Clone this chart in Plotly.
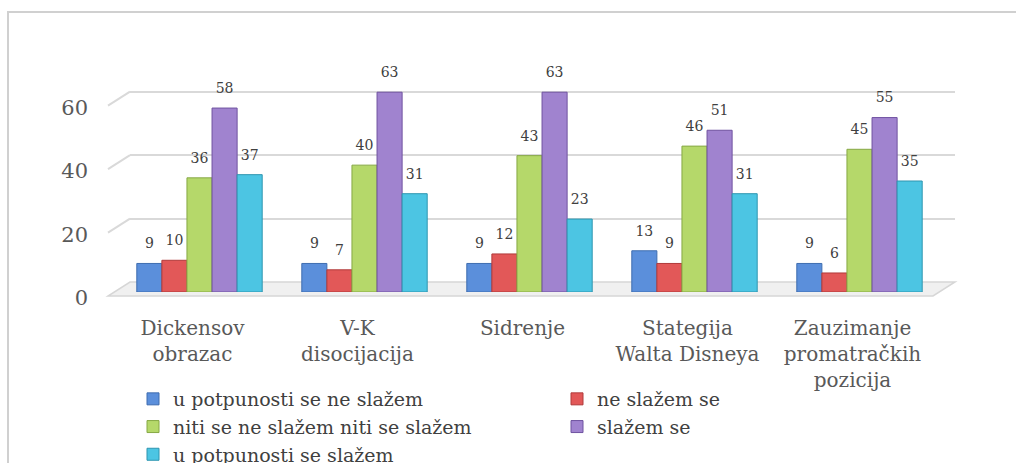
import plotly.graph_objects as go

categories = ["Dickensov<br>obrazac", "V-K<br>disocijacija", "Sidrenje",
              "Stategija<br>Walta Disneya", "Zauzimanje<br>promatračkih<br>pozicija"]
series_names = ["u potpunosti se ne slažem", "ne slažem se",
                "niti se ne slažem niti se slažem", "slažem se",
                "u potpunosti se slažem"]
s1 = [9, 9, 9, 13, 9]
s2 = [10, 7, 12, 9, 6]
s3 = [36, 40, 43, 46, 45]
s4 = [58, 63, 63, 51, 55]
s5 = [37, 31, 23, 31, 35]
tick_vals = [0, 20, 40, 60]
colors = ["#5B8FDB", "#E25858", "#B5D86A", "#A083CF", "#4CC5E3"]
edge = ["#3F6DB0", "#B03A3A", "#86A845", "#6F52A0", "#2E95B0"]

W, H = 1016, 463
L, R, T, B = 110, 20, 60, 165
PW, PH = W - L - R, H - T - B
YMAX = 70
SPAN_W, SPAN_H = 825, 222          # pixel size of one 3D "layer"
BAR_DX, BAR_DY = 7, 6              # bars layer offset from label layer
GRID_DX, GRID_DY = 20, 16          # back wall offset from label layer
SCALE = SPAN_H / YMAX


def px(x):
    return (x - L) / PW


def py(y):
    return (H - B - y) / PH


def dom_x(dx):
    return [dx / PW, (dx + SPAN_W) / PW]


def dom_y(dy):
    return [dy / PH, (dy + SPAN_H) / PH]


FONT = "DejaVu Serif"
fig = go.Figure()

# anchors so that grid and label subplots exist
fig.add_trace(go.Scatter(x=[categories[0]], y=[0], xaxis="x", yaxis="y",
                         mode="markers", marker=dict(opacity=0),
                         showlegend=False, hoverinfo="skip"))
fig.add_trace(go.Scatter(x=[categories[0]], y=[0], xaxis="x3", yaxis="y3",
                         mode="markers", marker=dict(opacity=0),
                         showlegend=False, hoverinfo="skip"))

all_series = [s1, s2, s3, s4, s5]
for name, vals, c, e in zip(series_names, all_series, colors, edge):
    fig.add_trace(go.Bar(
        x=categories, y=vals, name=name, xaxis="x2", yaxis="y2",
        marker=dict(color=c, line=dict(color=e, width=1)),
        hoverinfo="y",
    ))
for name, vals in zip(series_names, all_series):
    fig.add_trace(go.Scatter(
        x=categories, y=vals, xaxis="x2", yaxis="y2", mode="markers+text",
        text=vals, textposition="top center", cliponaxis=False,
        marker=dict(size=17, opacity=0),
        textfont=dict(family=FONT, size=14, color="#404040"),
        showlegend=False, hoverinfo="skip",
    ))

bar0 = H - B - BAR_DY            # pixel y of value 0 on the bar layer
grid0 = H - B - GRID_DY
shapes = []
# outer border
shapes.append(dict(type="rect", xref="paper", yref="paper",
                   x0=px(8), x1=px(1030), y0=py(490), y1=py(12),
                   line=dict(color="#D0D0D0", width=2), fillcolor="rgba(0,0,0,0)",
                   layer="below"))
# floor
x_fl, x_fr = L - 2, L - 2 + SPAN_W
x_bl, x_br = L + GRID_DX, L + GRID_DX + SPAN_W
y_front = bar0 + 4
path = (f"M {px(x_fl)} {py(y_front)} L {px(x_fr)} {py(y_front)} "
        f"L {px(x_br)} {py(grid0)} L {px(x_bl)} {py(grid0)} Z")
shapes.append(dict(type="path", xref="paper", yref="paper", path=path,
                   fillcolor="#F0F0F0", line=dict(color="#D6D6D6", width=1.5),
                   layer="below"))
# left wall connectors
for v in tick_vals[1:]:
    yb = grid0 - v * SCALE
    shapes.append(dict(type="line", xref="paper", yref="paper",
                       x0=px(x_fl), y0=py(yb + (y_front - grid0)),
                       x1=px(x_bl), y1=py(yb),
                       line=dict(color="#D9D9D9", width=2), layer="below"))

common_x = dict(range=[-0.5, 4.5], categoryorder="array",
                categoryarray=categories, showgrid=False, zeroline=False,
                showline=False, ticks="", fixedrange=True, automargin=False)
common_y = dict(range=[0, YMAX], tickvals=tick_vals, zeroline=False,
                showline=False, ticks="", fixedrange=True, automargin=False)

fig.update_layout(
    width=W, height=H,
    margin=dict(l=L, r=R, t=T, b=B, autoexpand=False),
    paper_bgcolor="white", plot_bgcolor="rgba(0,0,0,0)",
    barmode="group", bargap=0.24, bargroupgap=0,
    scattermode="group", scattergap=0.24,
    font=dict(family=FONT, color="#595959"),
    shapes=shapes,
    xaxis=dict(domain=dom_x(GRID_DX), anchor="y", showticklabels=False, **common_x),
    yaxis=dict(domain=dom_y(GRID_DY), anchor="x", showticklabels=False,
               showgrid=True, gridcolor="#D9D9D9", gridwidth=2, **common_y),
    xaxis2=dict(domain=dom_x(BAR_DX), anchor="y2", showticklabels=False, **common_x),
    yaxis2=dict(domain=dom_y(BAR_DY), anchor="x2", showticklabels=False,
                showgrid=False, **common_y),
    xaxis3=dict(domain=dom_x(0), anchor="y3", ticklabelstandoff=16,
                tickfont=dict(family=FONT, size=20, color="#595959"), **common_x),
    yaxis3=dict(domain=dom_y(0), anchor="x3", showgrid=False,
                ticklabelstandoff=21,
                tickfont=dict(family=FONT, size=21, color="#595959"), **common_y),
    legend=dict(orientation="h", xref="container", yref="container",
                x=133 / W, y=1 - 380 / H, xanchor="left",
                yanchor="top", entrywidth=379, entrywidthmode="pixels",
                font=dict(family=FONT, size=19, color="#404040"),
                bgcolor="rgba(0,0,0,0)", traceorder="normal"),
    showlegend=True,
)

fig.write_html("out.html", post_script="document.body.style.margin='0';",
               config={"displayModeBar": False})
